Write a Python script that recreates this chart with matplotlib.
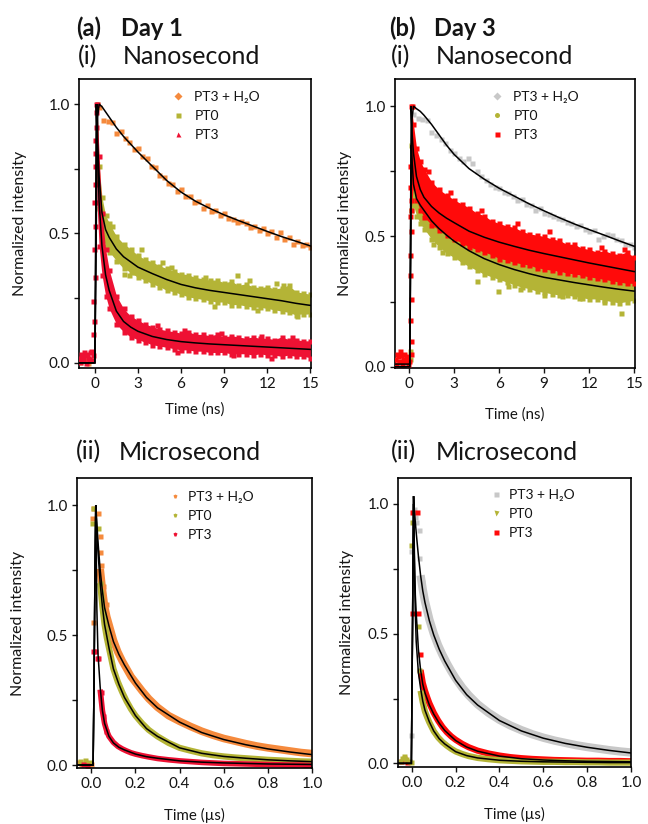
import matplotlib
matplotlib.use("Agg")
import matplotlib.pyplot as plt
from matplotlib.lines import Line2D

plt.rcParams['font.family'] = ['Lato', 'DejaVu Sans']
plt.rcParams['axes.linewidth'] = 1.2

ORANGE = '#F58A3D'
OLIVE = '#B4B436'
RED1 = '#EE1133'
RED3 = '#FF0A0A'
GRAY = '#C8C8C8'
TXT = '#141414'

series_labels = ['PT3 + H\u2082O', 'PT0', 'PT3']
y_ticks = [0.0, 0.25, 0.5, 0.75, 1.0]
y_ticklabels = ['0.0', '', '0.5', '', '1.0']
ns_ticks = [0, 3, 6, 9, 12, 15]
us_ticks = [0.0, 0.2, 0.4, 0.6, 0.8, 1.0]
us_ticklabels = ['0.0', '0.2', '0.4', '0.6', '0.8', '1.0']

# ---------------- shared sample times (ns panels) ----------------
pts_t_ns = [0.3, 0.6, 0.9, 1.2, 1.5, 1.8, 2.1, 2.4, 2.7, 3.0, 3.3, 3.6, 3.9, 4.2, 4.5,
            4.8, 5.1, 5.4, 5.7, 6.0, 6.3, 6.6, 6.9, 7.2, 7.5, 7.8, 8.1, 8.4, 8.7, 9.0,
            9.3, 9.6, 9.9, 10.2, 10.5, 10.8, 11.1, 11.4, 11.7, 12.0, 12.3, 12.6, 12.9,
            13.2, 13.5, 13.8, 14.1, 14.4, 14.7, 15.0]
band_t_ns = [0.15, 0.3, 0.5, 0.75, 1.0, 1.5, 2.0, 2.5, 3.0, 3.5, 4.0, 4.5, 5.0, 5.5, 6.0,
             6.5, 7.0, 7.5, 8.0, 8.5, 9.0, 9.5, 10.0, 10.5, 11.0, 11.5, 12.0, 12.5, 13.0,
             13.5, 14.0, 14.5, 15.0]

# ---------------- (a)(i) Day 1, nanosecond ----------------
a_ns_fit_t = [-1.1, 0.0, 0.05, 0.1, 0.15, 0.2, 0.3, 0.5, 0.75, 1.0, 1.5, 2.0, 2.5, 3.0,
              4.0, 5.0, 6.0, 7.0, 8.0, 9.0, 10.0, 11.0, 12.0, 13.0, 14.0, 15.0]
a_ns_fit_h2o = [0.0, 0.0, 0.2, 0.5, 0.8, 0.95, 1.0, 0.99, 0.97, 0.95, 0.91, 0.875, 0.845,
                0.815, 0.76, 0.705, 0.66, 0.625, 0.597, 0.572, 0.55, 0.529, 0.508, 0.488,
                0.47, 0.452]
a_ns_fit_pt0 = [0.0, 0.0, 0.3, 0.7, 1.0, 0.85, 0.72, 0.58, 0.515, 0.485, 0.44, 0.41, 0.39,
                0.37, 0.345, 0.322, 0.303, 0.29, 0.28, 0.272, 0.264, 0.256, 0.248, 0.24,
                0.23, 0.222]
a_ns_fit_pt3 = [0.0, 0.0, 0.4, 1.0, 0.9, 0.8, 0.62, 0.45, 0.34, 0.28, 0.2, 0.16, 0.138,
                0.122, 0.102, 0.09, 0.082, 0.077, 0.073, 0.07, 0.067, 0.064, 0.061, 0.058,
                0.055, 0.052]
a_ns_h2o_y = [0.99, 0.94, 0.935, 0.93, 0.89, 0.895, 0.87, 0.855, 0.825, 0.83, 0.80, 0.79,
              0.76, 0.755, 0.725, 0.72, 0.695, 0.69, 0.665, 0.67, 0.645, 0.645, 0.62, 0.625,
              0.60, 0.61, 0.585, 0.59, 0.57, 0.58, 0.56, 0.555, 0.545, 0.55, 0.54, 0.525,
              0.53, 0.515, 0.52, 0.50, 0.51, 0.485, 0.505, 0.48, 0.485, 0.46, 0.47, 0.455,
              0.46, 0.448]
a_ns_h2o_base_t = [-1.0, -0.75, -0.5, -0.25]
a_ns_h2o_base_y = [0.005, 0.01, 0.0, 0.01]
a_ns_pt0_hi = [1.0, 0.76, 0.64, 0.57, 0.54, 0.49, 0.46, 0.44, 0.415, 0.40, 0.39, 0.375,
               0.365, 0.355, 0.345, 0.34, 0.33, 0.325, 0.32, 0.32, 0.31, 0.315, 0.30, 0.305,
               0.295, 0.29, 0.295, 0.285, 0.29, 0.30, 0.275, 0.27, 0.265]
a_ns_pt0_lo = [0.70, 0.60, 0.50, 0.45, 0.43, 0.395, 0.365, 0.35, 0.33, 0.32, 0.305, 0.295,
               0.28, 0.275, 0.265, 0.255, 0.25, 0.245, 0.24, 0.235, 0.235, 0.225, 0.225,
               0.22, 0.215, 0.215, 0.21, 0.205, 0.20, 0.195, 0.185, 0.19, 0.19]
a_ns_pt0_pts_t = [2.0, 2.4, 2.8, 4.7, 9.9, 12.6, 13.1, 14.1, 14.6, 1.2, 3.2, 5.3, 7.7,
                  8.3, 10.7, 11.3]
a_ns_pt0_pts_y = [0.345, 0.34, 0.35, 0.39, 0.34, 0.31, 0.30, 0.18, 0.20, 0.53, 0.44, 0.37,
                  0.33, 0.22, 0.32, 0.205]
a_ns_pt3_hi = [1.0, 0.80, 0.58, 0.44, 0.36, 0.26, 0.21, 0.18, 0.165, 0.15, 0.14, 0.13,
               0.125, 0.12, 0.115, 0.12, 0.11, 0.11, 0.105, 0.11, 0.10, 0.105, 0.10, 0.095,
               0.10, 0.095, 0.095, 0.09, 0.10, 0.09, 0.09, 0.085, 0.085]
a_ns_pt3_lo = [0.62, 0.45, 0.34, 0.26, 0.21, 0.15, 0.12, 0.10, 0.09, 0.08, 0.07, 0.065,
               0.06, 0.055, 0.05, 0.05, 0.045, 0.045, 0.04, 0.04, 0.04, 0.035, 0.035, 0.035,
               0.03, 0.035, 0.03, 0.03, 0.025, 0.03, 0.025, 0.025, 0.02]
a_ns_pt3_pts_t = [-1.05, -0.95, -0.85, -0.75, -0.65, -0.55, -0.45, -0.35, -0.25, -0.15,
                  -1.0, -0.8, -0.6, -0.4, -0.2, -0.1, -0.05, -0.12, -0.02, -0.08, 0.0,
                  -0.05, 0.02, -0.02, 0.04, 0.0, 0.05, 0.08, 0.1,
                  4.3, 6.2, 8.8, 11.6, 13.7, 5.7, 9.6, 12.3]
a_ns_pt3_pts_y = [0.02, 0.035, 0.025, 0.04, 0.03, 0.035, 0.02, 0.04, 0.045, 0.03,
                  0.005, 0.01, 0.0, 0.015, 0.01, 0.11, 0.16, 0.24, 0.33, 0.44, 0.53,
                  0.62, 0.69, 0.76, 0.81, 0.86, 0.91, 0.97, 1.0,
                  0.145, 0.125, 0.115, 0.105, 0.10, 0.04, 0.03, 0.02]

# ---------------- (b)(i) Day 3, nanosecond ----------------
b_ns_fit_t = [-0.95, 0.05, 0.1, 0.15, 0.2, 0.3, 0.5, 0.75, 1.0, 1.5, 2.0, 2.5, 3.0, 4.0,
              5.0, 6.0, 7.0, 8.0, 9.0, 10.0, 11.0, 12.0, 13.0, 14.0, 15.0]
b_ns_fit_h2o = [0.01, 0.01, 0.3, 0.7, 0.95, 1.0, 0.99, 0.98, 0.965, 0.93, 0.89, 0.85, 0.815,
                0.76, 0.72, 0.685, 0.655, 0.625, 0.598, 0.572, 0.548, 0.526, 0.505, 0.483,
                0.462]
b_ns_fit_pt3 = [0.0, 0.0, 0.5, 1.0, 0.9, 0.82, 0.73, 0.68, 0.65, 0.615, 0.59, 0.57, 0.553,
                0.52, 0.497, 0.478, 0.462, 0.447, 0.434, 0.422, 0.41, 0.398, 0.387, 0.376,
                0.365]
b_ns_fit_pt0 = [0.0, 0.0, 0.4, 0.85, 0.8, 0.70, 0.645, 0.62, 0.60, 0.56, 0.53, 0.505, 0.482,
                0.445, 0.415, 0.392, 0.373, 0.357, 0.343, 0.333, 0.323, 0.314, 0.305, 0.297,
                0.29]
b_ns_h2o_y = [0.97, 0.955, 0.95, 0.945, 0.90, 0.89, 0.875, 0.86, 0.83, 0.82, 0.80, 0.79,
              0.80, 0.78, 0.75, 0.73, 0.715, 0.70, 0.69, 0.685, 0.67, 0.665, 0.655, 0.64,
              0.645, 0.625, 0.62, 0.60, 0.61, 0.59, 0.585, 0.58, 0.57, 0.565, 0.555, 0.55,
              0.54, 0.545, 0.53, 0.52, 0.525, 0.49, 0.50, 0.51, 0.505, 0.49, 0.485, 0.47,
              0.47, 0.46]
b_ns_h2o_base_t = [-0.9, -0.7, -0.5, -0.3, -0.1]
b_ns_h2o_base_y = [0.01, 0.015, 0.01, 0.005, 0.01]
b_ns_pt3_hi = [1.0, 0.93, 0.84, 0.79, 0.76, 0.71, 0.68, 0.66, 0.64, 0.625, 0.61, 0.59, 0.58,
               0.56, 0.55, 0.54, 0.535, 0.52, 0.51, 0.505, 0.50, 0.49, 0.485, 0.47, 0.47,
               0.455, 0.45, 0.44, 0.445, 0.435, 0.43, 0.44, 0.42]
b_ns_pt3_lo = [0.60, 0.70, 0.64, 0.60, 0.575, 0.545, 0.525, 0.505, 0.49, 0.475, 0.46, 0.45,
               0.44, 0.43, 0.415, 0.41, 0.40, 0.395, 0.39, 0.38, 0.375, 0.37, 0.365, 0.36,
               0.355, 0.35, 0.345, 0.34, 0.335, 0.33, 0.325, 0.32, 0.32]
b_ns_pt3_pts_t = [0.1, 0.08, 0.12, 0.1, 0.14, 0.1, 0.08, 0.12, 0.1, 0.14, 0.12, 0.2,
                  -0.9, -0.8, -0.7, -0.6, -0.5, -0.4, -0.3, -0.2, -0.1, 0.0,
                  -0.85, -0.65, -0.45, -0.25, -0.05, 1.3, 2.7, 4.8, 7.2, 9.3, 12.8, 14.3]
b_ns_pt3_pts_y = [0.77, 0.69, 0.64, 0.58, 0.52, 0.43, 0.35, 0.26, 0.18, 0.10, 0.05, 1.0,
                  0.03, 0.05, 0.04, 0.06, 0.045, 0.03, 0.05, 0.04, 0.035, 0.02,
                  0.01, 0.02, 0.015, 0.02, 0.01, 0.75, 0.67, 0.60, 0.55, 0.52, 0.46, 0.45]
b_ns_pt0_hi = [0.85, 0.74, 0.69, 0.66, 0.64, 0.60, 0.57, 0.545, 0.52, 0.50, 0.485, 0.47,
               0.455, 0.44, 0.43, 0.42, 0.41, 0.40, 0.39, 0.385, 0.38, 0.37, 0.365, 0.36,
               0.355, 0.35, 0.35, 0.345, 0.34, 0.335, 0.33, 0.33, 0.325]
b_ns_pt0_lo = [0.60, 0.62, 0.58, 0.55, 0.53, 0.49, 0.46, 0.435, 0.42, 0.40, 0.385, 0.37,
               0.355, 0.345, 0.335, 0.325, 0.315, 0.305, 0.30, 0.29, 0.285, 0.28, 0.275,
               0.275, 0.27, 0.265, 0.26, 0.26, 0.255, 0.25, 0.245, 0.25, 0.255]
b_ns_pt0_pts_t = [1.6, 2.2, 4.5, 5.9, 7.4, 9.0, 10.2, 11.3, 14.1, 13.0, 6.6, 0.1, 0.05]
b_ns_pt0_pts_y = [0.47, 0.44, 0.33, 0.29, 0.30, 0.275, 0.27, 0.265, 0.205, 0.25, 0.31,
                  0.06, 0.03]

# ---------------- (a)(ii) Day 1, microsecond ----------------
a_us_fit_t = [-0.065, 0.008, 0.012, 0.016, 0.02, 0.025, 0.03, 0.04, 0.05, 0.06, 0.08, 0.1,
              0.125, 0.15, 0.2, 0.25, 0.3, 0.4, 0.5, 0.6, 0.7, 0.8, 0.9, 1.0]
a_us_fit_h2o = [0, 0, 0.3, 0.7, 1.0, 0.93, 0.86, 0.75, 0.67, 0.605, 0.535, 0.475, 0.425,
                0.385, 0.315, 0.26, 0.22, 0.165, 0.125, 0.098, 0.078, 0.062, 0.05, 0.04]
a_us_fit_pt0 = [0, 0, 0.3, 0.7, 1.0, 0.9, 0.82, 0.70, 0.61, 0.54, 0.45, 0.37, 0.31, 0.26,
                0.19, 0.14, 0.11, 0.066, 0.045, 0.033, 0.026, 0.02, 0.016, 0.013]
a_us_fit_pt3 = [0, 0, 0.3, 0.7, 1.0, 0.6, 0.43, 0.30, 0.21, 0.16, 0.11, 0.085, 0.068,
                0.058, 0.042, 0.032, 0.026, 0.016, 0.011, 0.008, 0.006, 0.004, 0.003, 0.002]
band_t_us = [0.04, 0.05, 0.06, 0.07, 0.08, 0.1, 0.12, 0.14, 0.16, 0.18, 0.2, 0.23, 0.26,
             0.3, 0.35, 0.4, 0.45, 0.5, 0.55, 0.6, 0.65, 0.7, 0.75, 0.8, 0.85, 0.9, 0.95, 1.0]
a_us_h2o_y = [0.755, 0.675, 0.61, 0.57, 0.54, 0.48, 0.435, 0.40, 0.37, 0.34, 0.318, 0.285,
              0.255, 0.222, 0.19, 0.168, 0.148, 0.13, 0.115, 0.102, 0.092, 0.082, 0.073,
              0.066, 0.06, 0.054, 0.048, 0.044]
a_us_pt0_y = [0.70, 0.61, 0.54, 0.49, 0.45, 0.37, 0.32, 0.28, 0.245, 0.215, 0.19, 0.16,
              0.135, 0.11, 0.085, 0.066, 0.055, 0.045, 0.038, 0.033, 0.029, 0.026, 0.023,
              0.02, 0.018, 0.016, 0.014, 0.013]
a_us_pt3_y = [0.29, 0.21, 0.16, 0.13, 0.11, 0.087, 0.072, 0.062, 0.054, 0.047, 0.042,
              0.036, 0.031, 0.025, 0.02, 0.016, 0.013, 0.01, 0.008, 0.006, 0.005, 0.004,
              0.003, 0.002, 0.001, 0.0, 0.0, -0.002]
a_us_h2o_pts_t = [0.003, 0.007, 0.03, 0.037, 0.04, 0.044, 0.055, 0.065, 0.007,
                  -0.06, -0.045, -0.03, -0.015, 0.0]
a_us_h2o_pts_y = [0.95, 0.99, 0.97, 0.88, 0.82, 0.77, 0.69, 0.62, 0.55,
                  0.01, 0.005, 0.01, 0.0, 0.005]
a_us_pt0_pts_t = [0.003, 0.007, 0.03, 0.037, 0.052, 0.067, -0.05, -0.03, -0.01]
a_us_pt0_pts_y = [0.93, 0.99, 0.91, 0.70, 0.58, 0.52, 0.015, 0.02, 0.01]
a_us_pt3_pts_t = [0.007, 0.015, 0.025, 0.03, 0.044, 0.052, 0.067, -0.04, -0.02]
a_us_pt3_pts_y = [0.44, 0.44, 0.41, 0.41, 0.28, 0.19, 0.13, 0.005, 0.0]

# ---------------- (b)(ii) Day 3, microsecond ----------------
b_us_fit_t = [-0.063, -0.002, 0.003, 0.008, 0.012, 0.016, 0.02, 0.03, 0.04, 0.05, 0.06,
              0.08, 0.1, 0.125, 0.15, 0.2, 0.25, 0.3, 0.4, 0.5, 0.6, 0.7, 0.8, 0.9, 1.0]
b_us_fit_h2o = [0.0, 0.0, 0.5, 1.03, 0.97, 0.93, 0.89, 0.80, 0.725, 0.665, 0.62, 0.55,
                0.495, 0.44, 0.395, 0.32, 0.265, 0.225, 0.165, 0.125, 0.097, 0.077, 0.062,
                0.05, 0.04]
b_us_fit_pt3 = [0.0, 0.0, 0.5, 1.03, 0.8, 0.65, 0.58, 0.44, 0.36, 0.305, 0.272, 0.225,
                0.19, 0.155, 0.127, 0.088, 0.063, 0.047, 0.028, 0.018, 0.013, 0.01, 0.008,
                0.007, 0.006]
b_us_fit_pt0 = [0.0, 0.0, 0.5, 1.0, 0.75, 0.58, 0.47, 0.35, 0.29, 0.24, 0.205, 0.16, 0.125,
                0.095, 0.075, 0.045, 0.03, 0.021, 0.012, 0.008, 0.006, 0.005, 0.004, 0.003,
                0.003]
b_us_h2o_y = [0.725, 0.67, 0.625, 0.59, 0.555, 0.50, 0.455, 0.418, 0.385, 0.355, 0.328,
              0.292, 0.262, 0.228, 0.195, 0.168, 0.146, 0.128, 0.112, 0.099, 0.088, 0.079,
              0.07, 0.063, 0.057, 0.051, 0.046, 0.042]
b_us_pt0_y = [0.28, 0.235, 0.2, 0.178, 0.158, 0.124, 0.1, 0.082, 0.068, 0.056, 0.046, 0.036,
              0.028, 0.021, 0.016, 0.012, 0.01, 0.008, 0.007, 0.006, 0.006, 0.005, 0.005,
              0.004, 0.004, 0.003, 0.003, 0.003]
b_us_pt3_y = [0.36, 0.31, 0.28, 0.255, 0.232, 0.195, 0.165, 0.14, 0.12, 0.104, 0.091,
              0.075, 0.062, 0.049, 0.038, 0.03, 0.024, 0.02, 0.017, 0.015, 0.013, 0.012,
              0.011, 0.01, 0.01, 0.009, 0.009, 0.008]
b_us_h2o_pts_t = [0.006, 0.02, 0.033, -0.005, 0.034, 0.01, -0.005, 0.045, 0.015]
b_us_h2o_pts_y = [0.97, 0.93, 0.90, 0.82, 0.79, 0.98, 0.11, 0.70, 0.95]
b_us_pt3_pts_t = [0.003, 0.024, 0.0, 0.027, 0.038, -0.05, -0.035, -0.02]
b_us_pt3_pts_y = [0.97, 0.97, 0.58, 0.58, 0.42, 0.01, 0.02, 0.005]
b_us_pt0_pts_t = [0.0, -0.005, 0.03, 0.033, -0.055, -0.045, -0.035, -0.025, -0.015, -0.005]
b_us_pt0_pts_y = [0.93, 0.84, 0.53, 0.36, 0.01, 0.02, 0.03, 0.015, 0.01, 0.005]

# ======================================================================
fig = plt.figure(figsize=(6.48, 8.24), dpi=100)
W, H = 648.0, 824.0


def add_axes(l, r, t, b):
    return fig.add_axes([l / W, 1 - b / H, (r - l) / W, (b - t) / H])


ax_a_ns = add_axes(79, 311, 79, 368)
ax_b_ns = add_axes(395, 635, 79, 368)
ax_a_us = add_axes(77, 312, 478, 768)
ax_b_us = add_axes(398, 631, 478, 767)

MS = 3.6


def pts(ax, t, y, color, z=2):
    ax.plot(t, y, ls='none', marker='s', ms=MS, mfc=color, mec='none', zorder=z)


def band(ax, t, lo, hi, color, z=2):
    ax.fill_between(t, lo, hi, color=color, lw=0, zorder=z)
    pts(ax, t, lo, color, z)
    pts(ax, t, hi, color, z)


def fit(ax, t, y):
    ax.plot(t, y, color='black', lw=1.1, zorder=5, solid_joinstyle='miter')


def style(ax, xlim, ylim, xticks, xticklabels, xlabel, ylx, xly):
    ax.set_xlim(*xlim)
    ax.set_ylim(*ylim)
    ax.set_xticks(xticks)
    ax.set_xticklabels(xticklabels)
    ax.set_yticks(y_ticks)
    ax.set_yticklabels(y_ticklabels)
    ax.tick_params(direction='out', length=3.5, width=1.0, labelsize=11,
                   colors=TXT, pad=3)
    ax.set_xlabel(xlabel, fontsize=10.8, color=TXT)
    ax.set_ylabel('Normalized intensity', fontsize=11.5, color=TXT)
    ax.yaxis.set_label_coords(ylx, 0.5)
    ax.xaxis.set_label_coords(0.5, xly)


def legend(ax, colors, markers, x0, y0, tpad):
    handles = [Line2D([], [], ls='none', marker=m, ms=3.6, mfc=c, mec='none')
               for c, m in zip(colors, markers)]
    ax.legend(handles, series_labels, loc='upper left', bbox_to_anchor=(x0, y0),
              frameon=False, fontsize=10, handlelength=1.0, handletextpad=tpad,
              labelspacing=0.5, borderpad=0, borderaxespad=0, labelcolor=TXT)


# (a)(i)
ax = ax_a_ns
pts(ax, a_ns_h2o_base_t + pts_t_ns, a_ns_h2o_base_y + a_ns_h2o_y, ORANGE)
band(ax, band_t_ns, a_ns_pt0_lo, a_ns_pt0_hi, OLIVE)
pts(ax, a_ns_pt0_pts_t, a_ns_pt0_pts_y, OLIVE)
band(ax, band_t_ns, a_ns_pt3_lo, a_ns_pt3_hi, RED1, 3)
pts(ax, a_ns_pt3_pts_t, a_ns_pt3_pts_y, RED1, 3)
for f in (a_ns_fit_h2o, a_ns_fit_pt0, a_ns_fit_pt3):
    fit(ax, a_ns_fit_t, f)
style(ax, (-1.1, 15.05), (-0.02, 1.097), ns_ticks, [str(v) for v in ns_ticks],
      'Time (ns)', -0.224, -0.118)
legend(ax, [ORANGE, OLIVE, RED1], ['D', 's', '^'], 0.395, 0.958, 0.7)

# (b)(i)
ax = ax_b_ns
pts(ax, b_ns_h2o_base_t + pts_t_ns, b_ns_h2o_base_y + b_ns_h2o_y, GRAY)
band(ax, band_t_ns, b_ns_pt0_lo, b_ns_pt0_hi, OLIVE)
pts(ax, b_ns_pt0_pts_t, b_ns_pt0_pts_y, OLIVE)
band(ax, band_t_ns, b_ns_pt3_lo, b_ns_pt3_hi, RED3, 3)
pts(ax, b_ns_pt3_pts_t, b_ns_pt3_pts_y, RED3, 3)
for f in (b_ns_fit_h2o, b_ns_fit_pt3, b_ns_fit_pt0):
    fit(ax, b_ns_fit_t, f)
style(ax, (-0.93, 15.05), (-0.005, 1.104), ns_ticks, [str(v) for v in ns_ticks],
      'Time (ns)', -0.18, -0.135)
legend(ax, [GRAY, OLIVE, RED3], ['D', 'o', 's'], 0.395, 0.958, 0.7)

# (a)(ii)
ax = ax_a_us
ax.plot(band_t_us, a_us_h2o_y, color=ORANGE, lw=5.5, zorder=2, solid_capstyle='butt')
ax.plot(band_t_us, a_us_pt0_y, color=OLIVE, lw=4.5, zorder=2, solid_capstyle='butt')
ax.plot(band_t_us, a_us_pt3_y, color=RED1, lw=4.0, zorder=2, solid_capstyle='butt')
pts(ax, a_us_h2o_pts_t, a_us_h2o_pts_y, ORANGE)
pts(ax, a_us_pt0_pts_t, a_us_pt0_pts_y, OLIVE)
pts(ax, a_us_pt3_pts_t, a_us_pt3_pts_y, RED1)
for f in (a_us_fit_h2o, a_us_fit_pt0, a_us_fit_pt3):
    fit(ax, a_us_fit_t, f)
style(ax, (-0.065, 1.0), (-0.0115, 1.104), us_ticks, us_ticklabels,
      'Time (\u00b5s)', -0.221, -0.138)
legend(ax, [ORANGE, OLIVE, RED1], ['p', 'p', 'p'], 0.387, 0.955, 0.45)

# (b)(ii)
ax = ax_b_us
ax.plot(band_t_us, b_us_h2o_y, color=GRAY, lw=6.0, zorder=2, solid_capstyle='butt')
ax.plot(band_t_us, b_us_pt3_y, color=RED3, lw=4.5, zorder=2, solid_capstyle='butt')
ax.plot(band_t_us, b_us_pt0_y, color=OLIVE, lw=4.5, zorder=2, solid_capstyle='butt')
pts(ax, b_us_h2o_pts_t, b_us_h2o_pts_y, GRAY)
pts(ax, b_us_pt3_pts_t, b_us_pt3_pts_y, RED3)
pts(ax, b_us_pt0_pts_t, b_us_pt0_pts_y, OLIVE)
for f in (b_us_fit_h2o, b_us_fit_pt3, b_us_fit_pt0):
    fit(ax, b_us_fit_t, f)
style(ax, (-0.063, 1.0), (-0.014, 1.10), us_ticks, us_ticklabels,
      'Time (\u00b5s)', -0.189, -0.138)
legend(ax, [GRAY, OLIVE, RED3], ['s', 'v', 's'], 0.39, 0.962, 0.45)

# ---------------- titles ----------------
TS = 18


def ftxt(x, y, s, bold=False, size=TS):
    fig.text(x / W, 1 - y / H, s, fontsize=size, color=TXT, va='center', ha='left',
             fontweight='bold' if bold else 'normal')


ftxt(76, 28, '(a)', True, 17)
ftxt(121, 28, 'Day 1', True, 17)
ftxt(78, 57, '(i)')
ftxt(123, 57, 'Nanosecond')
ftxt(389, 28, '(b)', True, 17)
ftxt(434, 28, 'Day 3', True, 17)
ftxt(391, 57, '(i)')
ftxt(436, 57, 'Nanosecond')
ftxt(76, 452, '(ii)')
ftxt(119, 452, 'Microsecond')
ftxt(391, 452, '(ii)')
ftxt(436, 452, 'Microsecond')

fig.savefig('out.png', dpi=100)
